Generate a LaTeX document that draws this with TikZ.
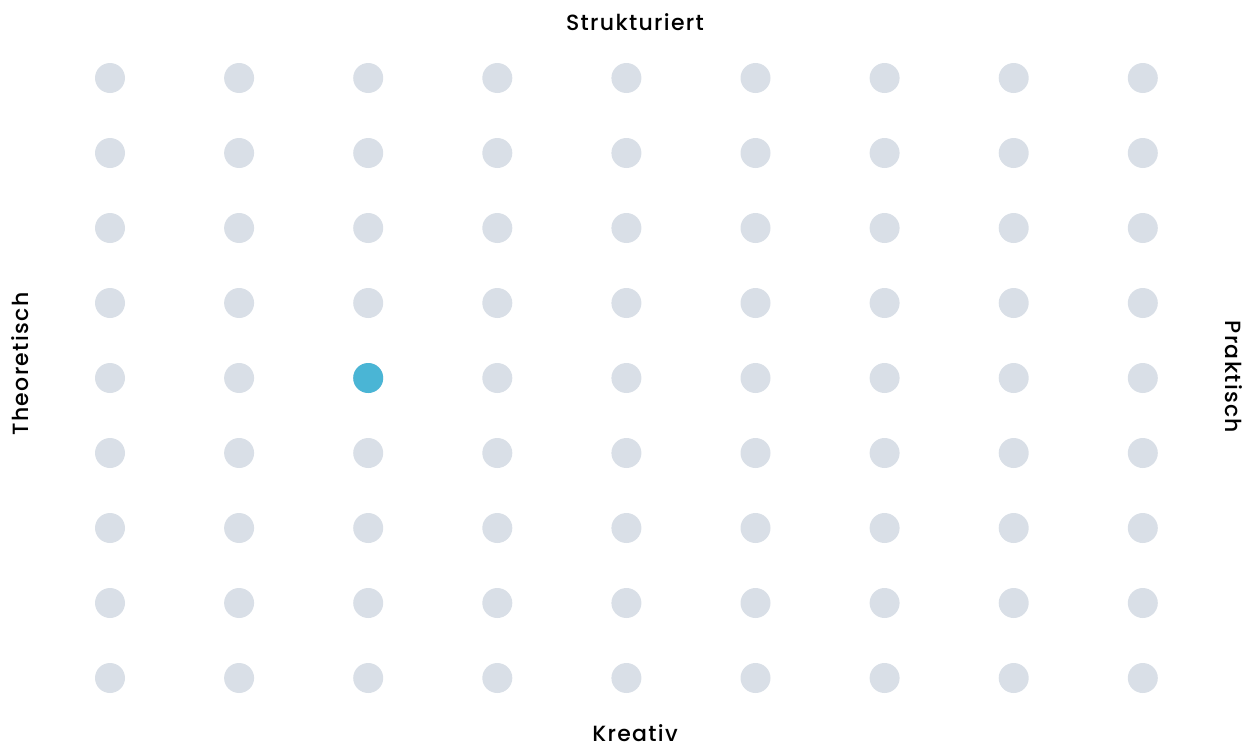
\documentclass[tikz,border=0pt]{standalone}
\usepackage{fontspec}
\setmainfont{Poppins}[UprightFont=* Medium]
\definecolor{dotgrey}{HTML}{D9DFE7}
\definecolor{dotblue}{HTML}{4AB5D5}
\begin{document}
\begin{tikzpicture}[x=1pt,y=-1pt,
  dotc/.style={circle,fill=dotgrey,minimum size=30pt,inner sep=0pt},
  dotsel/.style={circle,fill=dotblue,minimum size=30pt,inner sep=0pt},
  axislabel/.style={font=\fontsize{22}{24}\selectfont\addfontfeatures{LetterSpace=6}, text=black, inner sep=0pt}]
\useasboundingbox (0,0) rectangle (1253,745);
\foreach \i in {0,...,8} {
  \foreach \j in {0,...,8} {
    \node[dotc] (d\i\j) at ({110+\i*129.1},{78+\j*75}) {};
  }
}
\node[dotsel] (sel) at ({110+2*129.1},{78+4*75}) {};
\node[axislabel] (top) at (635,22) {Strukturiert};
\node[axislabel, anchor=base] (bottom) at (635,741) {Kreativ};
\node[axislabel, rotate=90] (left) at (20,364) {Theoretisch};
\node[axislabel, rotate=-90] (right) at (1234,377) {Praktisch};
\end{tikzpicture}
\end{document}
